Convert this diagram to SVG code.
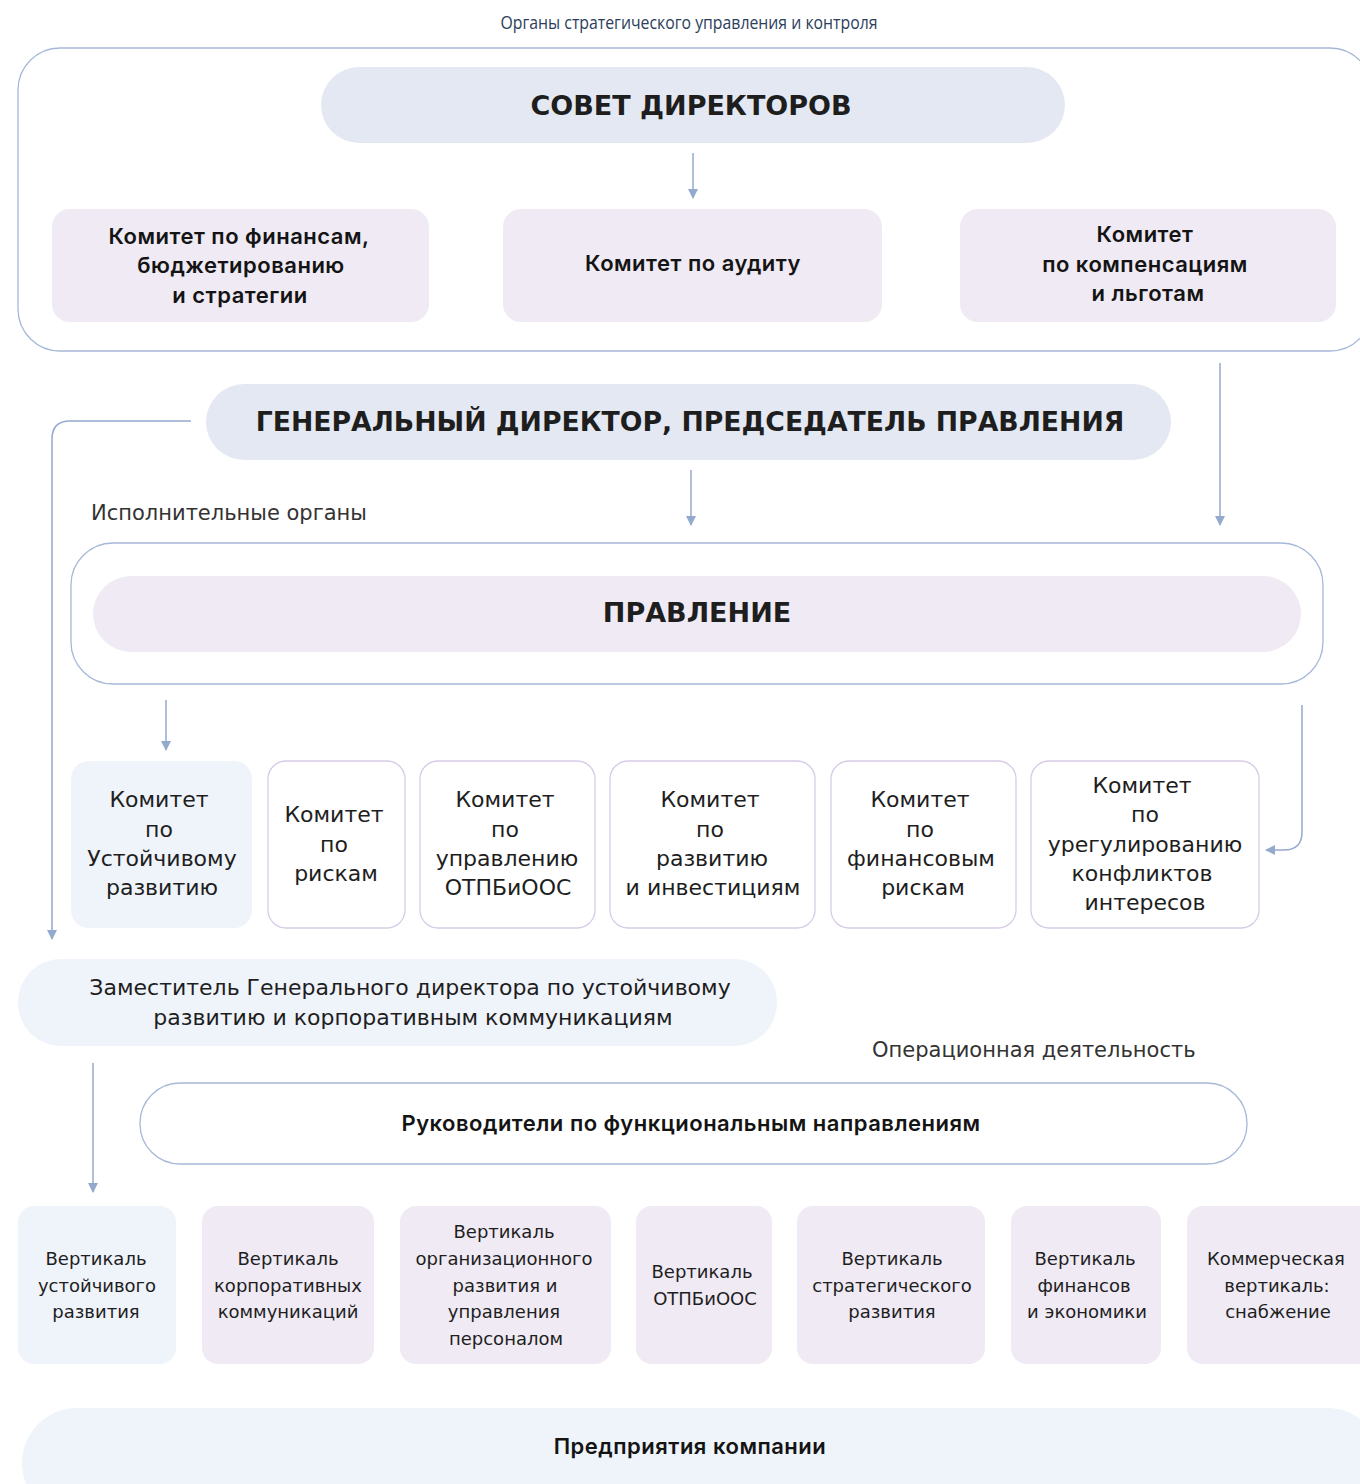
<svg xmlns="http://www.w3.org/2000/svg" width="1360" height="1484" viewBox="0 0 1360 1484">
<defs>
<style>
.t{font-family:"DejaVu Sans","Liberation Sans",sans-serif;fill:#1e1e1e;text-anchor:middle}
.b{font-weight:bold}
.sb{font-family:Inter,"Noto Sans","Liberation Sans",sans-serif;font-weight:600;fill:#141414;letter-spacing:0.5px}
.frame{fill:#ffffff;stroke:#a6b8d8;stroke-width:1.3}
.pillB{fill:#e4e8f2}
.pillL{fill:#eff3fa}
.lav{fill:#efeaf4}
.lavS{fill:#ffffff;stroke:#d7cce8;stroke-width:1.3}
.con{fill:none;stroke:#94a9ce;stroke-width:1.5}
</style>
<marker id="ah" viewBox="0 0 10 10" refX="9" refY="5" markerWidth="10" markerHeight="10" markerUnits="userSpaceOnUse" orient="auto">
<path d="M0,0 L10,5 L0,10 z" fill="#94a9ce"/>
</marker>
</defs>
<rect width="1360" height="1484" fill="#ffffff"/>

<text x="689" y="29" class="t" style="font-family:'Open Sans','Liberation Sans',sans-serif;fill:#2b3e5c;font-size:18px" textLength="377" lengthAdjust="spacingAndGlyphs">Органы стратегического управления и контроля</text>

<g id="top-frame"><rect x="18" y="48" width="1354" height="303" rx="42" class="frame"/></g>

<g id="sovet"><rect x="321" y="67" width="744" height="76" rx="38" class="pillB"/>
<text x="691" y="115" class="t b" font-size="27">СОВЕТ ДИРЕКТОРОВ</text></g>

<g id="kom-fin"><rect x="52" y="209" width="377" height="113" rx="18" class="lav"/>
<text class="t sb" font-size="22"><tspan x="239" y="244">Комитет по финансам,</tspan><tspan x="241" y="273">бюджетированию</tspan><tspan x="240" y="303">и стратегии</tspan></text></g>

<g id="kom-audit"><rect x="503" y="209" width="379" height="113" rx="18" class="lav"/>
<text x="693" y="271" class="t sb" font-size="22">Комитет по аудиту</text></g>

<g id="kom-comp"><rect x="960" y="209" width="376" height="113" rx="18" class="lav"/>
<text class="t sb" font-size="22"><tspan x="1145" y="242">Комитет</tspan><tspan x="1145" y="272">по компенсациям</tspan><tspan x="1148" y="301">и льготам</tspan></text></g>

<g id="gd"><rect x="206" y="384" width="965" height="76" rx="38" class="pillB"/>
<text x="690" y="431" class="t b" font-size="26.7">ГЕНЕРАЛЬНЫЙ ДИРЕКТОР, ПРЕДСЕДАТЕЛЬ ПРАВЛЕНИЯ</text></g>

<text x="91" y="520" class="t" font-size="21" style="text-anchor:start;fill:#333">Исполнительные органы</text>

<g id="pravlenie-frame"><rect x="71" y="543" width="1252" height="141" rx="42" class="frame"/></g>
<g id="pravlenie"><rect x="93" y="576" width="1208" height="76" rx="38" class="lav"/>
<text x="697" y="622" class="t b" font-size="27">ПРАВЛЕНИЕ</text></g>

<g id="k-ur"><rect x="71" y="761" width="181" height="167" rx="18" class="pillL"/>
<text class="t" font-size="22"><tspan x="159" y="807">Комитет</tspan><tspan x="159" y="837">по</tspan><tspan x="162" y="866">Устойчивому</tspan><tspan x="162" y="895">развитию</tspan></text></g>

<g id="k-risk"><rect x="268" y="761" width="137" height="167" rx="18" class="lavS"/>
<text class="t" font-size="22"><tspan x="334" y="822">Комитет</tspan><tspan x="334" y="852">по</tspan><tspan x="336" y="881">рискам</tspan></text></g>

<g id="k-otp"><rect x="420" y="761" width="175" height="167" rx="18" class="lavS"/>
<text class="t" font-size="22"><tspan x="505" y="807">Комитет</tspan><tspan x="505" y="837">по</tspan><tspan x="507" y="866">управлению</tspan><tspan x="508" y="895">ОТПБиООС</tspan></text></g>

<g id="k-inv"><rect x="610" y="761" width="205" height="167" rx="18" class="lavS"/>
<text class="t" font-size="22"><tspan x="710" y="807">Комитет</tspan><tspan x="710" y="837">по</tspan><tspan x="712" y="866">развитию</tspan><tspan x="713" y="895">и инвестициям</tspan></text></g>

<g id="k-finrisk"><rect x="831" y="761" width="185" height="167" rx="18" class="lavS"/>
<text class="t" font-size="22"><tspan x="920" y="807">Комитет</tspan><tspan x="920" y="837">по</tspan><tspan x="921" y="866">финансовым</tspan><tspan x="923" y="895">рискам</tspan></text></g>

<g id="k-konf"><rect x="1031" y="761" width="228" height="167" rx="18" class="lavS"/>
<text class="t" font-size="22"><tspan x="1142" y="793">Комитет</tspan><tspan x="1145" y="822">по</tspan><tspan x="1145" y="852">урегулированию</tspan><tspan x="1142" y="881">конфликтов</tspan><tspan x="1145" y="910">интересов</tspan></text></g>

<g id="deputy"><rect x="18" y="959" width="759" height="87" rx="43" class="pillL"/>
<text class="t" font-size="22"><tspan x="410" y="995">Заместитель Генерального директора по устойчивому</tspan><tspan x="413" y="1025">развитию и корпоративным коммуникациям</tspan></text></g>

<text x="872" y="1057" class="t" font-size="21" style="text-anchor:start;fill:#333">Операционная деятельность</text>

<g id="ruk"><rect x="140" y="1083" width="1107" height="81" rx="40" class="frame"/>
<text x="691" y="1131" class="t sb" font-size="22">Руководители по функциональным направлениям</text></g>

<g id="v-ur"><rect x="18" y="1206" width="158" height="158" rx="16" class="pillL"/>
<text class="t" font-size="18"><tspan x="96" y="1265">Вертикаль</tspan><tspan x="97" y="1292">устойчивого</tspan><tspan x="96" y="1318">развития</tspan></text></g>

<g id="v-korp"><rect x="202" y="1206" width="172" height="158" rx="16" class="lav"/>
<text class="t" font-size="18"><tspan x="288" y="1265">Вертикаль</tspan><tspan x="288" y="1292">корпоративных</tspan><tspan x="288" y="1318">коммуникаций</tspan></text></g>

<g id="v-org"><rect x="400" y="1206" width="211" height="158" rx="16" class="lav"/>
<text class="t" font-size="18"><tspan x="504" y="1238">Вертикаль</tspan><tspan x="504" y="1265">организационного</tspan><tspan x="505" y="1292">развития и</tspan><tspan x="504" y="1318">управления</tspan><tspan x="506" y="1345">персоналом</tspan></text></g>

<g id="v-otp"><rect x="636" y="1206" width="136" height="158" rx="16" class="lav"/>
<text class="t" font-size="18"><tspan x="702" y="1278">Вертикаль</tspan><tspan x="705" y="1305">ОТПБиООС</tspan></text></g>

<g id="v-strat"><rect x="797" y="1206" width="188" height="158" rx="16" class="lav"/>
<text class="t" font-size="18"><tspan x="892" y="1265">Вертикаль</tspan><tspan x="892" y="1292">стратегического</tspan><tspan x="892" y="1318">развития</tspan></text></g>

<g id="v-fin"><rect x="1011" y="1206" width="150" height="158" rx="16" class="lav"/>
<text class="t" font-size="18"><tspan x="1085" y="1265">Вертикаль</tspan><tspan x="1084" y="1292">финансов</tspan><tspan x="1087" y="1318">и экономики</tspan></text></g>

<g id="v-kom"><rect x="1187" y="1206" width="190" height="158" rx="16" class="lav"/>
<text class="t" font-size="18"><tspan x="1276" y="1265">Коммерческая</tspan><tspan x="1277" y="1292">вертикаль:</tspan><tspan x="1278" y="1318">снабжение</tspan></text></g>

<g id="predpr"><rect x="22" y="1408" width="1360" height="110" rx="55" class="pillL"/>
<text x="690" y="1454" class="t sb" font-size="22">Предприятия компании</text></g>

<g id="connectors">
<path d="M693,153 V198" class="con" marker-end="url(#ah)"/>
<path d="M1220,363 V525" class="con" marker-end="url(#ah)"/>
<path d="M691,470 V525" class="con" marker-end="url(#ah)"/>
<path d="M191,421 H70 Q52,421 52,439 V939" class="con" marker-end="url(#ah)"/>
<path d="M166,700 V750" class="con" marker-end="url(#ah)"/>
<path d="M1302,705 V832 Q1302,850 1284,850 H1266" class="con" marker-end="url(#ah)"/>
<path d="M93,1063 V1192" class="con" marker-end="url(#ah)"/>
</g>
</svg>
